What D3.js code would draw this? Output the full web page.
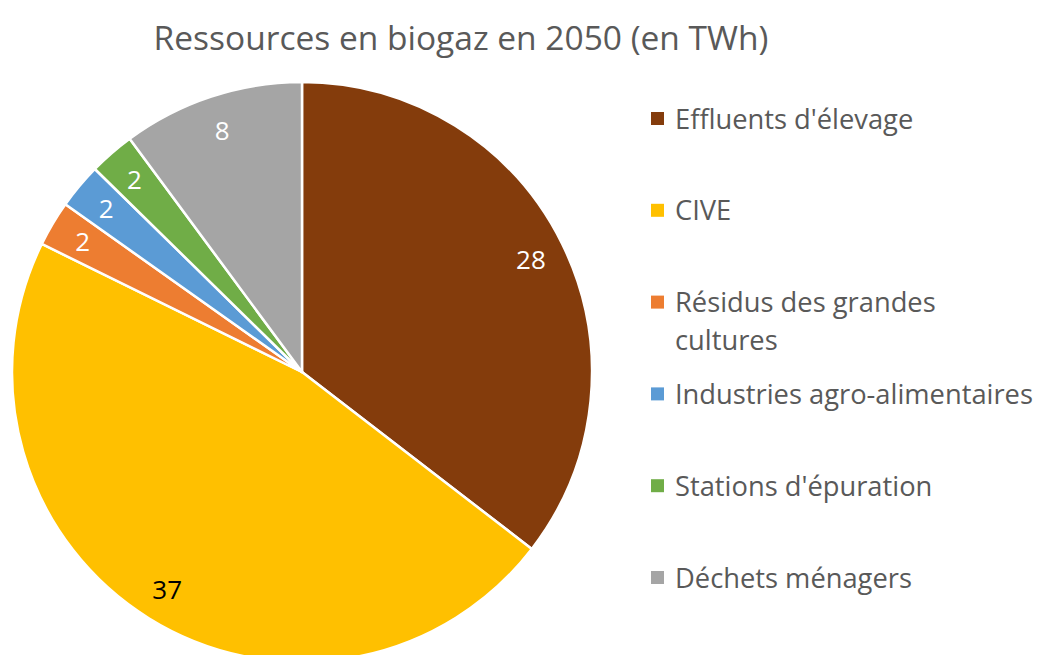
<!DOCTYPE html>
<html>
<head>
<meta charset="utf-8">
<script src="https://cdn.jsdelivr.net/npm/d3@7"></script>
<style>
  html, body { margin: 0; padding: 0; background: #fff; overflow: hidden; }
  svg text { font-family: "Open Sans", "Noto Sans", sans-serif; }
</style>
</head>
<body>
<svg id="chart" width="1037" height="655"></svg>
<script>
// Biogas resources in 2050, TWh
const categories = [
  "Effluents d'élevage",
  "CIVE",
  "Résidus des grandes cultures",
  "Industries agro-alimentaires",
  "Stations d'épuration",
  "Déchets ménagers"
];
const values = [28, 37, 2, 2, 2, 8];
const colors = ["#843C0C", "#FFC000", "#ED7D31", "#5B9BD5", "#70AD47", "#A5A5A5"];
const labelColors = ["#ffffff", "#000000", "#ffffff", "#ffffff", "#ffffff", "#ffffff"];
const legendLines = [
  ["Effluents d'élevage"],
  ["CIVE"],
  ["Résidus des grandes", "cultures"],
  ["Industries agro-alimentaires"],
  ["Stations d'épuration"],
  ["Déchets ménagers"]
];
const title = "Ressources en biogaz en 2050 (en TWh)";

const svg = d3.select("#chart");
const cx = 302, cy = 372, R = 290;

svg.append("text")
  .attr("x", 461).attr("y", 50)
  .attr("text-anchor", "middle")
  .attr("font-size", 33.5)
  .attr("fill", "#595959")
  .text(title);

const data = categories.map((c, i) => ({ name: c, value: values[i], color: colors[i], lc: labelColors[i] }));

const pie = d3.pie().value(d => d.value).sort(null);
const arcs = pie(data);
const arc = d3.arc().innerRadius(0).outerRadius(R);
const labelArc = d3.arc().innerRadius(R * 0.88).outerRadius(R * 0.88);

const g = svg.append("g").attr("transform", `translate(${cx},${cy})`);

g.selectAll("path.slice")
  .data(arcs)
  .join("path")
  .attr("class", "slice")
  .attr("d", arc)
  .attr("fill", d => d.data.color)
  .attr("stroke", "#ffffff")
  .attr("stroke-width", 2.5)
  .attr("stroke-linejoin", "round");

g.selectAll("text.val")
  .data(arcs)
  .join("text")
  .attr("class", "val")
  .attr("transform", d => `translate(${labelArc.centroid(d)})`)
  .attr("text-anchor", "middle")
  .attr("dominant-baseline", "central")
  .attr("font-size", 26)
  .attr("fill", d => d.data.lc)
  .text(d => d3.format("d")(d.data.value));

// Legend
const legendY = d3.scalePoint().domain(categories).range([118, 577]);
const lg = svg.append("g");
categories.forEach((c, i) => {
  const y = legendY(c);
  const lines = legendLines[i];
  lg.append("rect")
    .attr("x", 651).attr("y", y - 6)
    .attr("width", 13).attr("height", 13)
    .attr("fill", colors[i]);
  lines.forEach((t, j) => {
    lg.append("text")
      .attr("x", 675).attr("y", y + j * 38)
      .attr("dominant-baseline", "central")
      .attr("font-size", 27.3)
      .attr("fill", "#595959")
      .text(t);
  });
});
</script>
</body>
</html>
